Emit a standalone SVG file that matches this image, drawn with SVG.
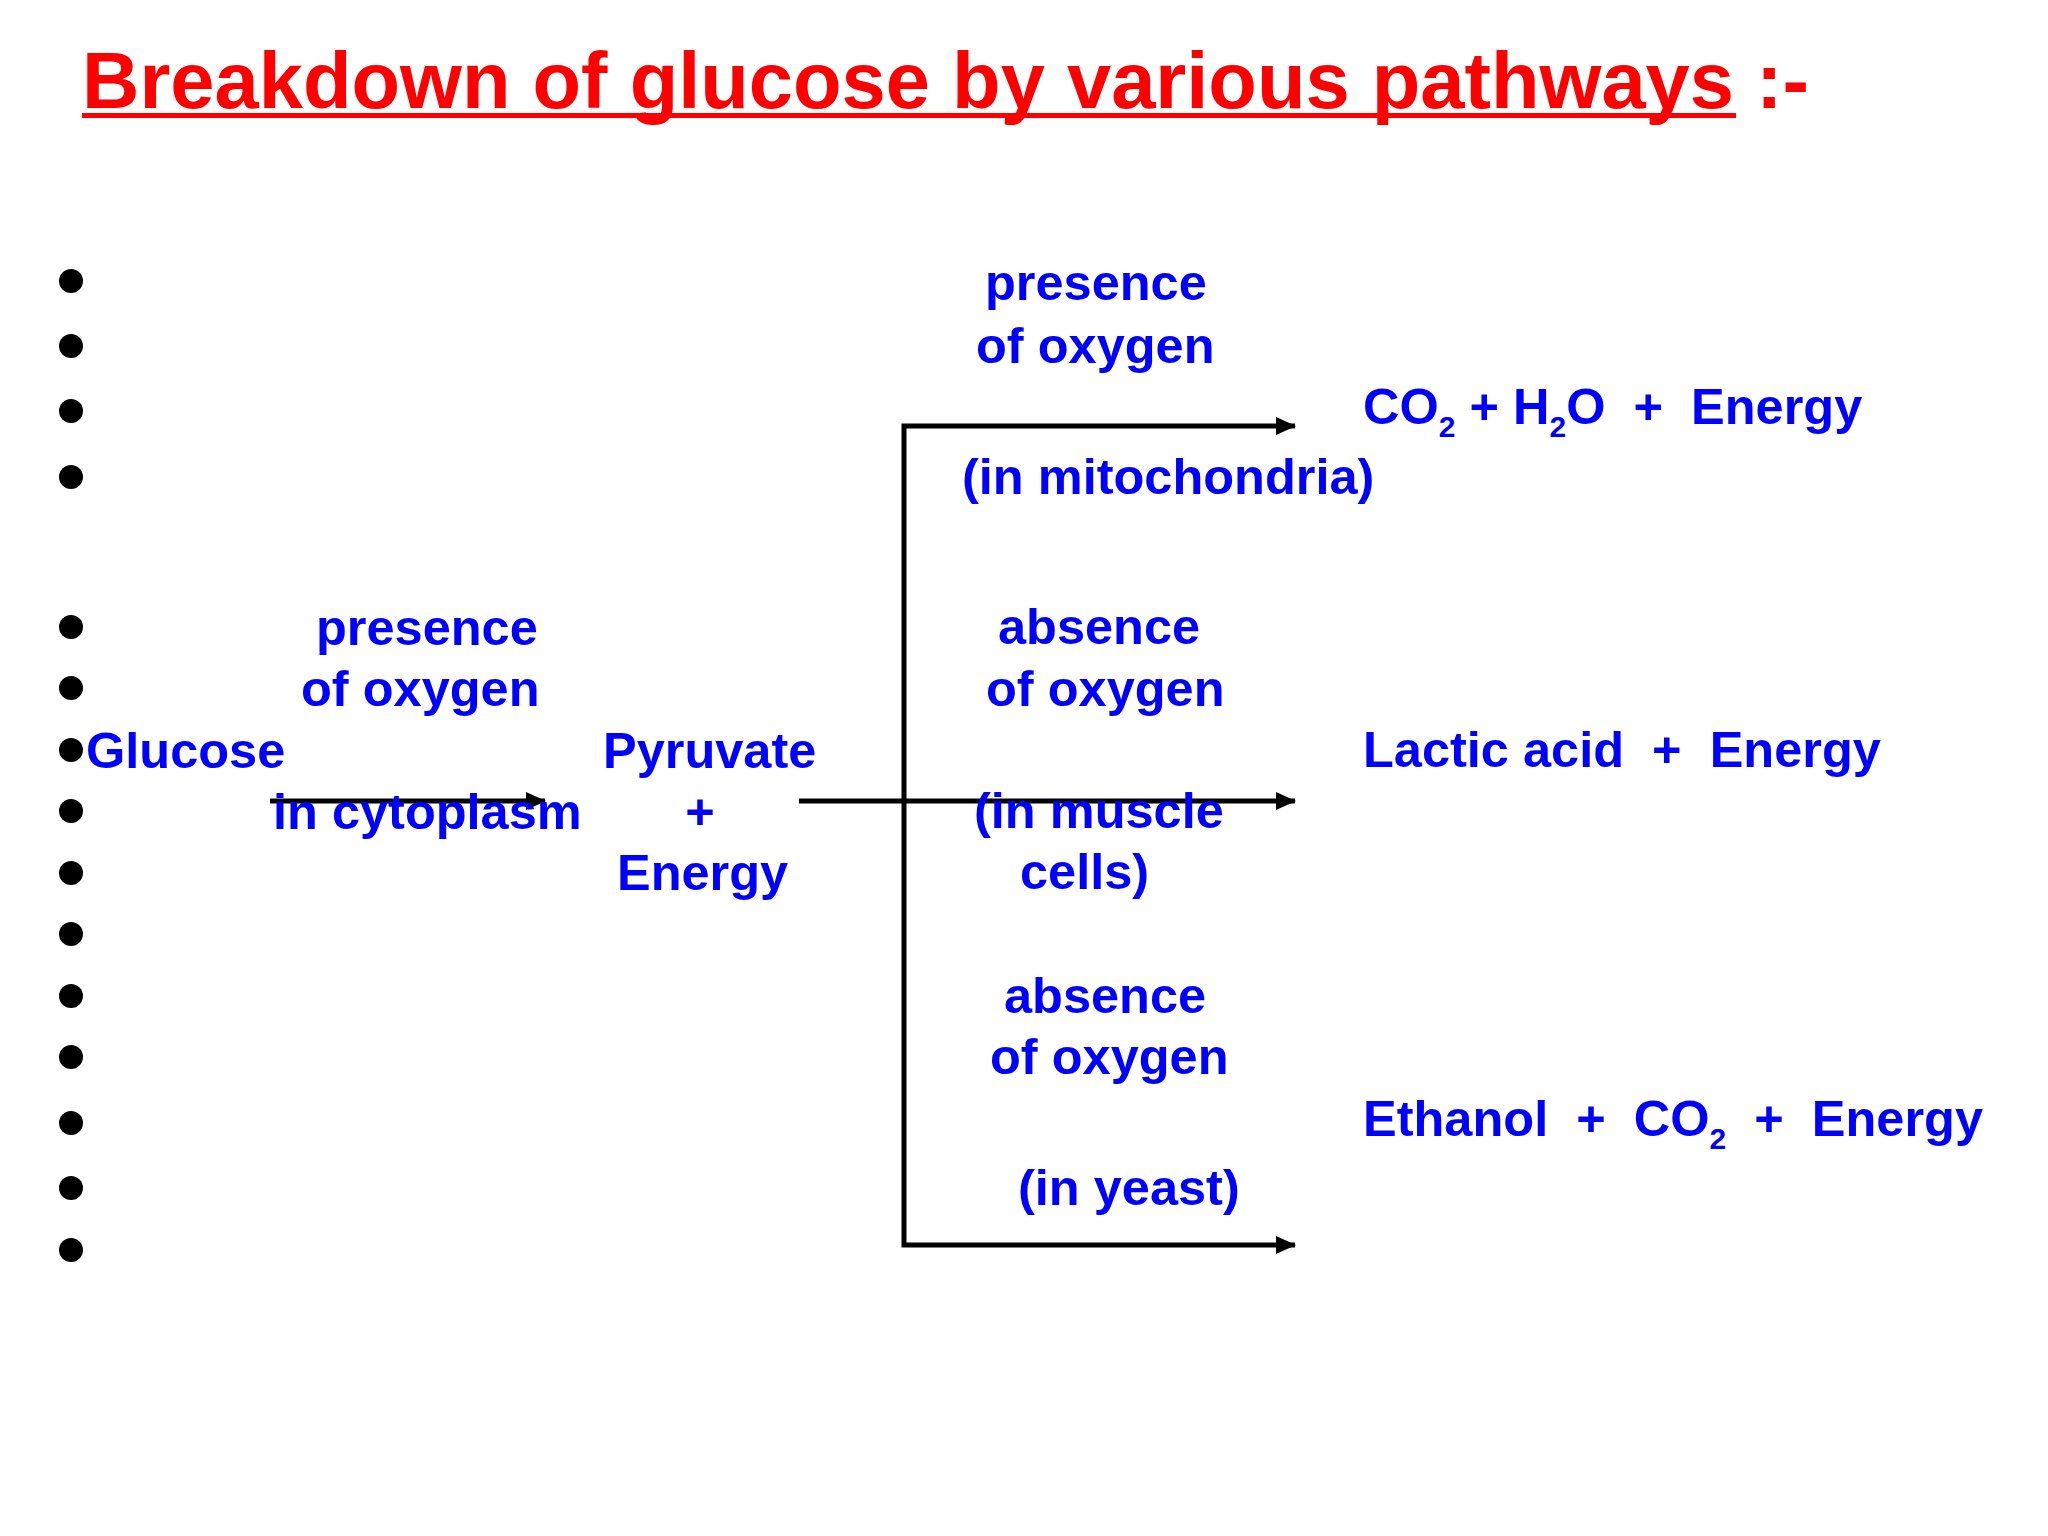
<svg xmlns="http://www.w3.org/2000/svg" width="2048" height="1536" viewBox="0 0 2048 1536">
<style>
.t{font-family:"Liberation Sans",Arial,sans-serif;font-weight:bold;font-size:50.5px;fill:#0000FF}
.sub{font-size:30px}
.title{font-family:"Liberation Sans",Arial,sans-serif;font-weight:bold;font-size:79.5px;fill:#FF0000}
.c{fill:none;stroke:#000;stroke-width:5;stroke-linejoin:miter}
</style>
<defs>
<marker id="ah" markerUnits="userSpaceOnUse" markerWidth="20" markerHeight="18" refX="19" refY="9" orient="auto">
<path d="M0,0 L20,9 L0,18 z" fill="#000"/>
</marker>
</defs>
<rect width="2048" height="1536" fill="#fff"/>
<g id="title">
<text class="title" x="82" y="108"><tspan textLength="1652" lengthAdjust="spacingAndGlyphs">Breakdown of glucose by various pathways</tspan><tspan> :-</tspan></text>
<rect x="82" y="113" width="1654" height="5" fill="#FF0000"/>
</g>
<g id="bullets" fill="#000">
<circle cx="71" cy="281" r="12"/>
<circle cx="71" cy="346" r="12"/>
<circle cx="71" cy="411" r="12"/>
<circle cx="71" cy="477" r="12"/>
<circle cx="71" cy="627" r="12"/>
<circle cx="71" cy="688" r="12"/>
<circle cx="71" cy="750" r="12"/>
<circle cx="71" cy="811" r="12"/>
<circle cx="71" cy="873" r="12"/>
<circle cx="71" cy="934" r="12"/>
<circle cx="71" cy="996" r="12"/>
<circle cx="71" cy="1057" r="12"/>
<circle cx="71" cy="1123" r="12"/>
<circle cx="71" cy="1188" r="12"/>
<circle cx="71" cy="1250" r="12"/>
</g>
<g id="connectors">
<path class="c" d="M270,801 H545" marker-end="url(#ah)"/>
<path class="c" d="M799,801 H1295" marker-end="url(#ah)"/>
<path class="c" d="M904,801 V426 H1295" marker-end="url(#ah)"/>
<path class="c" d="M904,801 V1245 H1295" marker-end="url(#ah)"/>
</g>
<g id="glucose"><text class="t" x="86" y="768">Glucose</text></g>
<g id="label-glycolysis">
<text class="t" x="316" y="645">presence</text>
<text class="t" x="301" y="706">of oxygen</text>
<text class="t" x="273" y="829">in cytoplasm</text>
</g>
<g id="pyruvate">
<text class="t" x="603" y="768">Pyruvate</text>
<text class="t" x="700" y="829" text-anchor="middle">+</text>
<text class="t" x="617" y="890">Energy</text>
</g>
<g id="label-aerobic">
<text class="t" x="985" y="300">presence</text>
<text class="t" x="976" y="363">of oxygen</text>
<text class="t" x="962" y="494">(in mitochondria)</text>
</g>
<g id="product-aerobic">
<text class="t" x="1363" y="424" xml:space="preserve">CO<tspan class="sub" dy="13">2</tspan><tspan dy="-13"> + H</tspan><tspan class="sub" dy="13">2</tspan><tspan dy="-13">O  +  Energy</tspan></text>
</g>
<g id="label-muscle">
<text class="t" x="998" y="644">absence</text>
<text class="t" x="986" y="706">of oxygen</text>
<text class="t" x="974" y="828">(in muscle</text>
<text class="t" x="1020" y="889">cells)</text>
</g>
<g id="product-lactic">
<text class="t" x="1363" y="767" xml:space="preserve">Lactic acid  +  Energy</text>
</g>
<g id="label-yeast">
<text class="t" x="1004" y="1013">absence</text>
<text class="t" x="990" y="1074">of oxygen</text>
<text class="t" x="1018" y="1205">(in yeast)</text>
</g>
<g id="product-ethanol">
<text class="t" x="1363" y="1136" xml:space="preserve">Ethanol  +  CO<tspan class="sub" dy="13">2</tspan><tspan dy="-13">  +  Energy</tspan></text>
</g>
</svg>
